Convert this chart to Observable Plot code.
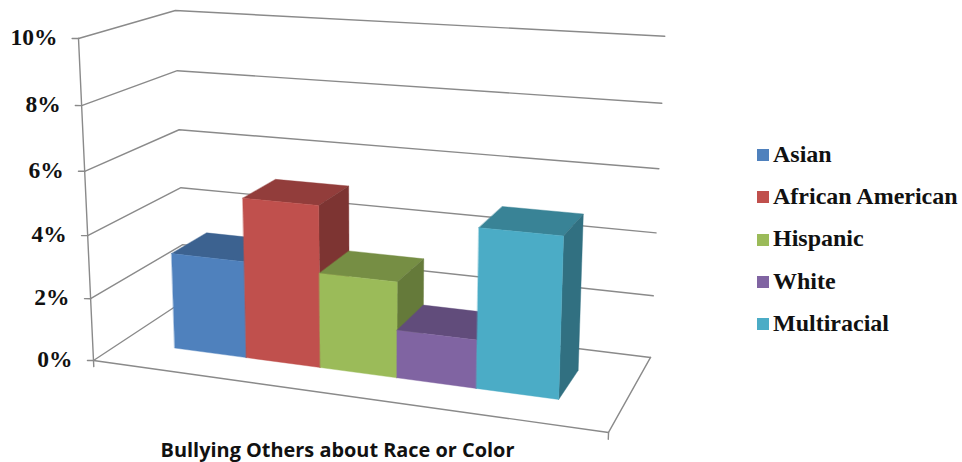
<!DOCTYPE html>
<html>
<head>
<meta charset="utf-8">
<script src="https://cdn.jsdelivr.net/npm/d3@7"></script>
<script src="https://cdn.jsdelivr.net/npm/@observablehq/plot@0.6"></script>
<style>
  html, body { margin: 0; padding: 0; background: #fff; }
  #chart { position: relative; width: 962px; height: 462px; overflow: hidden; }
  #chart svg { display: block; }
  #legend {
    position: absolute; left: 757px; top: 133px;
    font: bold 24px "Liberation Serif", serif; color: #111;
  }
  #legend .row { display: flex; align-items: center; height: 42.3px; white-space: nowrap; }
  #legend .swatch { width: 12px; height: 12px; margin-right: 4px; flex: none; position: relative; top: 1px; }
</style>
</head>
<body>
<div id="chart"></div>
<script>
// Series
const categories = ["Asian", "African American", "Hispanic", "White", "Multiracial"];
const values = [3.1, 5.1, 3.0, 1.5, 4.9];
const colors = ["#4F81BD", "#C0504D", "#9BBB59", "#8064A2", "#4BACC6"];
const percentTicks = [0, 2, 4, 6, 8, 10];
const xTitle = "Bullying Others about Race or Color";

// Face shading for the box tops and right-hand sides
const topShade = 0.76;
const sideShade = 0.65;

// Perspective camera: homogeneous image position of the box corner at
// width 0, depth 0, value 0, and its change along width, depth and value.
const origin = [93, 360, 1];
const alongWidth = [446.7, 23.4, -0.1124];
const alongDepth = [112.2, -25.4, 0.1153];
const alongValue = [-18.9, -323.9, -0.05];
const valueMax = 10;

// Bars occupy the middle of the floor in both directions
const widthStart = 0.115, widthEnd = 0.885, depthStart = 0.30, depthEnd = 0.70;

function project(u, d, v) {
  const t = v / valueMax;
  const h = origin.map((o, k) => o + u * alongWidth[k] + d * alongDepth[k] + t * alongValue[k]);
  return {x: h[0] / h[2], y: h[1] / h[2]};
}

function shade(color, k) {
  const c = d3.rgb(color);
  return d3.rgb(c.r * k, c.g * k, c.b * k).formatHex();
}

// Thin outlined path in the axis colour
const rule = (points) => Plot.line(points, {x: "x", y: "y", stroke: "#8a8a8a", strokeWidth: 1.4, curve: "linear"});

// Closed filled face
const face = (points, fill) => Plot.line(points, {
  x: "x", y: "y", fill, stroke: fill, strokeWidth: 0.4, curve: "linear-closed"
});

const gridMarks = percentTicks.map((p) => rule([project(0, 0, p), project(0, 1, p), project(1, 1, p)]));
const floorMarks = rule([project(0, 0, 0), project(1, 0, 0), project(1, 1, 0)]);
const axisMark = rule([project(0, 0, 0), project(0, 0, valueMax)]);
const tickMarks = percentTicks.map((p) => rule([project(0, 0, p), project(-0.011, -0.01, p)]));
const baseTicks = [0, 1].map((u) => rule([project(u, 0, 0), project(u, 0, -0.2)]));

const step = (widthEnd - widthStart) / categories.length;
const barMarks = categories.flatMap((name, i) => {
  const u0 = widthStart + i * step, u1 = u0 + step, v = values[i], c = colors[i];
  return [
    face([project(u0, depthStart, v), project(u1, depthStart, v), project(u1, depthEnd, v), project(u0, depthEnd, v)], shade(c, topShade)),
    face([project(u1, depthStart, 0), project(u1, depthEnd, 0), project(u1, depthEnd, v), project(u1, depthStart, v)], shade(c, sideShade)),
    face([project(u0, depthStart, 0), project(u1, depthStart, 0), project(u1, depthStart, v), project(u0, depthStart, v)], c)
  ];
});

const labels = Plot.text(percentTicks, {
  x: (p) => project(0, 0, p).x,
  y: (p) => project(0, 0, p).y,
  text: (p) => `${p}%`,
  textAnchor: "end",
  dx: -21,
  dy: -1,
  fontFamily: "Liberation Serif",
  fontWeight: "bold",
  fontSize: 23.5,
  fill: "#111"
});

const title = Plot.text([xTitle], {
  frameAnchor: "bottom",
  lineAnchor: "middle",
  dx: -144,
  dy: -12,
  fontFamily: "Open Sans",
  fontWeight: 700,
  fontSize: 19.9,
  fill: "#111"
});

const plot = Plot.plot({
  width: 962,
  height: 462,
  margin: 0,
  x: {domain: [0, 962], range: [0, 962], axis: null},
  y: {domain: [0, 462], range: [0, 462], axis: null},
  style: {background: "#fff"},
  marks: [...gridMarks, floorMarks, axisMark, ...tickMarks, ...baseTicks, ...barMarks, labels, title]
});

const chart = document.getElementById("chart");
chart.append(plot);

// Legend column to the right of the plot
const legend = document.createElement("div");
legend.id = "legend";
categories.forEach((name, i) => {
  const row = document.createElement("div");
  row.className = "row";
  const swatch = document.createElement("span");
  swatch.className = "swatch";
  swatch.style.background = colors[i];
  const text = document.createElement("span");
  text.textContent = name;
  row.append(swatch, text);
  legend.append(row);
});
chart.append(legend);
</script>
</body>
</html>
